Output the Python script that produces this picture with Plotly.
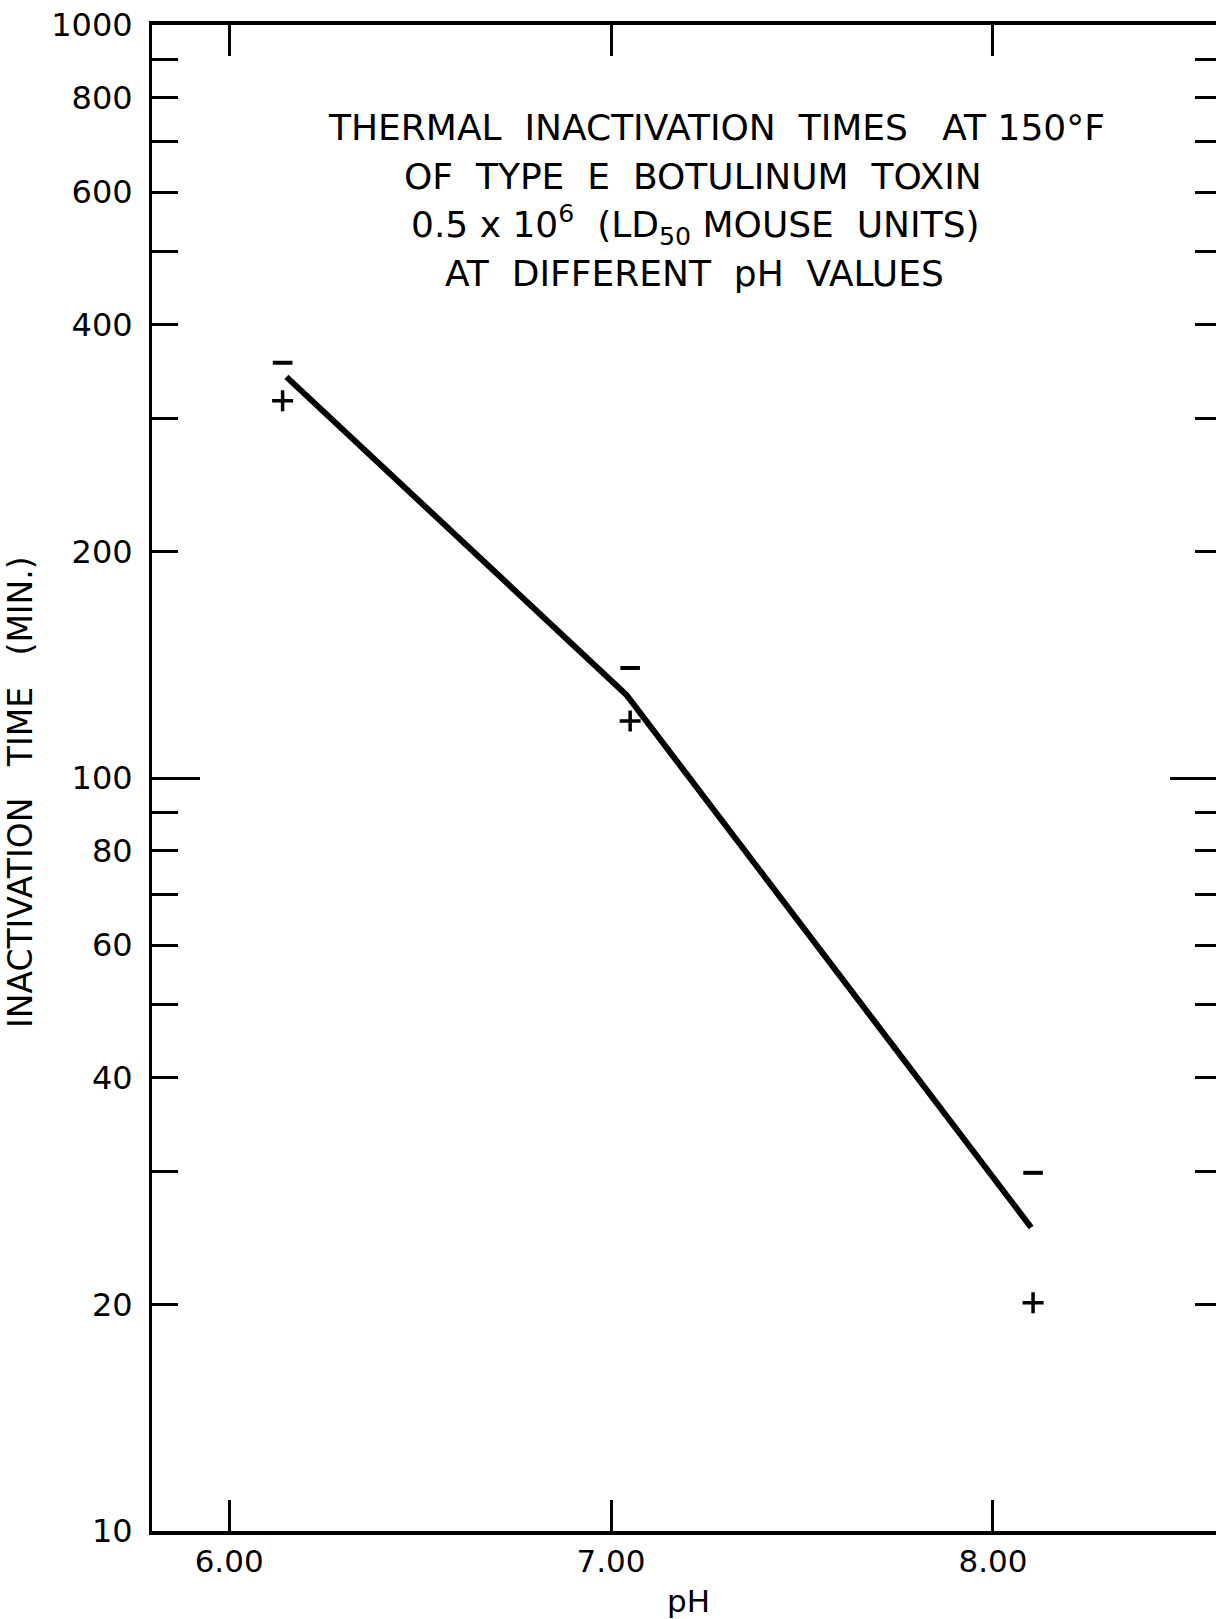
import plotly.graph_objects as go

# ---- data ----
ph_line = [6.15, 7.04, 8.10]
time_line = [341, 129, 25.3]

ph_minus = [6.14, 7.05, 8.105]
time_minus = [356, 140, 29.9]

ph_plus = [6.14, 7.05, 8.105]
time_plus = [317, 119, 20.1]

y_label_vals = [10, 20, 40, 60, 80, 100, 200, 400, 600, 800, 1000]
y_label_text = ["10", "20", "40", "60", "80", "100", "200", "400", "600", "800", "1000"]
y_plain_ticks = [30, 50, 70, 90, 300, 500, 700, 900]
y_all_ticks = sorted(y_label_vals + y_plain_ticks)
y_long_tick = [100]

x_tick_vals = [6, 7, 8]
x_tick_text = ["6.00", "7.00", "8.00"]

title_lines = [
    "THERMAL  INACTIVATION  TIMES   AT 150°F",
    "OF  TYPE  E  BOTULINUM  TOXIN",
    "0.5 x 10<sup>6</sup>  (LD<sub>50</sub> MOUSE  UNITS)",
    "AT  DIFFERENT  pH  VALUES",
]
y_title = "INACTIVATION   TIME   (MIN.)"
x_title = "pH"

# ---- layout geometry ----
W, H = 1216, 1619
L, R, T, B = 152, 0, 25, 88
pw, ph = W - L - R, H - T - B


def paper(px, py):
    return (px - L) / pw, (H - B - py) / ph


FONT = "DejaVu Sans"
BLACK = "#000000"

fig = go.Figure()

fig.add_trace(go.Scatter(x=ph_line, y=time_line, mode="lines",
                         line=dict(color=BLACK, width=6), showlegend=False))
fig.add_trace(go.Scatter(x=ph_minus, y=time_minus, mode="markers",
                         marker=dict(symbol="line-ew", size=14,
                                     line=dict(color=BLACK, width=4)),
                         showlegend=False))
fig.add_trace(go.Scatter(x=ph_plus, y=time_plus, mode="markers",
                         marker=dict(symbol="cross-thin", size=15,
                                     line=dict(color=BLACK, width=3.5)),
                         showlegend=False))

# invisible traces anchoring the overlay axes
for ax_name in ["y2", "y3", "y4", "y5"]:
    fig.add_trace(go.Scatter(x=[6], y=[100], yaxis=ax_name, mode="markers",
                             marker=dict(opacity=0), showlegend=False,
                             hoverinfo="skip"))

yr = [1, 3]
common = dict(type="log", range=yr, overlaying="y", showgrid=False,
              zeroline=False, showline=False, ticks="inside",
              tickcolor=BLACK, showticklabels=False)
fig.update_layout(
    width=W, height=H,
    margin=dict(l=L, r=R, t=T, b=B, pad=0),
    paper_bgcolor="white", plot_bgcolor="white",
    font=dict(family=FONT, color=BLACK),
    xaxis=dict(range=[5.798, 8.584], showgrid=False, zeroline=False,
               showline=True, linewidth=3.5, linecolor=BLACK, mirror="ticks",
               ticks="inside", ticklen=31, tickwidth=2.5, tickcolor=BLACK,
               tickvals=x_tick_vals, ticktext=x_tick_text,
               tickfont=dict(size=31, family=FONT), ticklabelstandoff=0),
    yaxis=dict(type="log", range=yr, showgrid=False, zeroline=False,
               showline=True, linewidth=3, linecolor=BLACK,
               ticks="inside", ticklen=26, tickwidth=3, tickcolor=BLACK,
               tickvals=y_label_vals, ticktext=y_label_text,
               tickfont=dict(size=32, family=FONT), ticklabelstandoff=10),
    yaxis2=dict(common, side="right", ticklen=21, tickwidth=2.5,
                tickvals=y_all_ticks),
    yaxis3=dict(common, side="left", ticklen=48, tickwidth=3,
                tickvals=y_long_tick),
    yaxis4=dict(common, side="right", ticklen=46, tickwidth=2.5,
                tickvals=y_long_tick),
    yaxis5=dict(common, side="left", ticklen=26, tickwidth=3,
                tickvals=y_plain_ticks),
)

title_pos = [(716, 127), (693, 176), (695, 225), (694, 274)]
for text, (px, py) in zip(title_lines, title_pos):
    ax, ay = paper(px, py)
    fig.add_annotation(x=ax, y=ay, xref="paper", yref="paper", text=text,
                       showarrow=False, xanchor="center", yanchor="middle",
                       font=dict(size=36, family=FONT, color=BLACK))

ax, ay = paper(20, 792)
fig.add_annotation(x=ax, y=ay, xref="paper", yref="paper", text=y_title,
                   showarrow=False, textangle=-90, xanchor="center",
                   yanchor="middle", font=dict(size=33, family=FONT, color=BLACK))

ax, ay = paper(688, 1601)
fig.add_annotation(x=ax, y=ay, xref="paper", yref="paper", text=x_title,
                   showarrow=False, xanchor="center", yanchor="middle",
                   font=dict(size=31, family=FONT, color=BLACK))

fig.write_html("out.html", config={"displayModeBar": False},
               post_script="document.body.style.margin='0';document.body.style.overflow='hidden';")
